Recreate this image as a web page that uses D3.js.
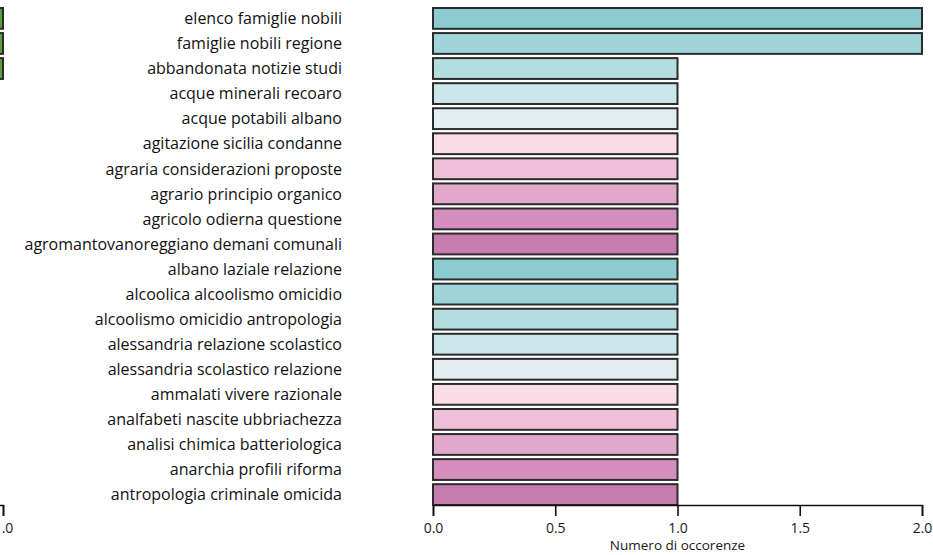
<!DOCTYPE html>
<html lang="it">
<head>
<meta charset="UTF-8">
<title>Numero di occorenze</title>
<script src="https://d3js.org/d3.v7.min.js"></script>
<style>
  body { margin: 0; background: #fff; }
  svg { display: block; font-family: "Open Sans", "Noto Sans", sans-serif; }
</style>
</head>
<body>
<svg id="chart" width="933" height="555"></svg>
<script>
// trigram labels, top to bottom
const labels = [
  "elenco famiglie nobili",
  "famiglie nobili regione",
  "abbandonata notizie studi",
  "acque minerali recoaro",
  "acque potabili albano",
  "agitazione sicilia condanne",
  "agraria considerazioni proposte",
  "agrario principio organico",
  "agricolo odierna questione",
  "agromantovanoreggiano demani comunali",
  "albano laziale relazione",
  "alcoolica alcoolismo omicidio",
  "alcoolismo omicidio antropologia",
  "alessandria relazione scolastico",
  "alessandria scolastico relazione",
  "ammalati vivere razionale",
  "analfabeti nascite ubbriachezza",
  "analisi chimica batteriologica",
  "anarchia profili riforma",
  "antropologia criminale omicida"
];
const values = [2, 2, 1, 1, 1, 1, 1, 1, 1, 1, 1, 1, 1, 1, 1, 1, 1, 1, 1, 1];

// neighbouring panel, cut off at the left edge (first three rows only)
const leftValues = [1, 1, 1];

const xTicks = [0, 0.5, 1, 1.5, 2];
const palette = ["#8ccbd0", "#9fd4d8", "#b4dde0", "#cbe6ea", "#e2eef2",
                 "#fbdde8", "#f0c0da", "#e1a8cb", "#d58fbe", "#c77cb0"];

const svg = d3.select("#chart");

const y = d3.scaleBand()
  .domain(labels)
  .range([8, 505])
  .paddingInner(0.17)
  .paddingOuter(0);

const x = d3.scaleLinear().domain([0, 2]).range([433, 922]);

// bars
svg.append("g").selectAll("rect")
  .data(labels)
  .join("rect")
  .attr("x", x(0))
  .attr("y", d => y(d))
  .attr("width", (d, i) => x(values[i]) - x(0))
  .attr("height", y.bandwidth())
  .attr("fill", (d, i) => palette[i % palette.length])
  .attr("stroke", "#2b2b2b")
  .attr("stroke-width", 2);

// category labels
svg.append("g").selectAll("text")
  .data(labels)
  .join("text")
  .attr("x", 342)
  .attr("y", d => y(d) + y.bandwidth() / 2)
  .attr("dy", "0.36em")
  .attr("text-anchor", "end")
  .attr("font-size", 16)
  .attr("fill", "#111")
  .text(d => d);

function styleAxis(g) {
  g.select(".domain").attr("stroke", "#111").attr("stroke-width", 1.6);
  g.selectAll(".tick line").attr("stroke", "#111").attr("stroke-width", 1.6);
  g.selectAll(".tick text").attr("font-size", 14).attr("fill", "#1a1a1a")
    .attr("font-family", "\"Open Sans\", sans-serif");
}

// x axis
svg.append("g")
  .attr("transform", "translate(0,505)")
  .call(d3.axisBottom(x).tickValues(xTicks).tickFormat(d3.format(".1f")).tickSize(11).tickPadding(7))
  .call(styleAxis);

svg.append("text")
  .attr("x", x(1))
  .attr("y", 550)
  .attr("text-anchor", "middle")
  .attr("font-size", 13.5)
  .attr("fill", "#1a1a1a")
  .text("Numero di occorenze");

// left panel remnant
const xl = d3.scaleLinear().domain([0, 1]).range([-240, 3]);
svg.append("g").selectAll("rect")
  .data(leftValues)
  .join("rect")
  .attr("x", xl(0))
  .attr("y", (d, i) => y(labels[i]))
  .attr("width", d => xl(d) - xl(0))
  .attr("height", y.bandwidth())
  .attr("fill", "#5a9e3a")
  .attr("stroke", "#2b2b2b")
  .attr("stroke-width", 2);

svg.append("g")
  .attr("transform", "translate(0,505)")
  .call(d3.axisBottom(xl).tickValues([1]).tickFormat(d3.format(".1f")).tickSize(11).tickPadding(7))
  .call(styleAxis);
</script>
</body>
</html>
